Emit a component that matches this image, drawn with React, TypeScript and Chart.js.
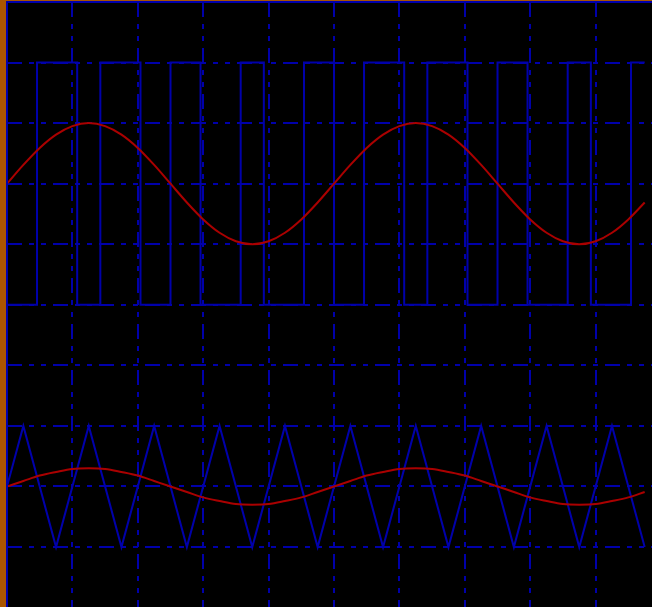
import React, { useEffect, useRef } from "react";
import { Chart, registerables } from "chart.js";

Chart.register(...registerables);

// Sine sampling positions (grid divisions)
const sineX = [
  0, 0.25, 0.5, 0.75, 1, 1.25, 1.5, 1.75, 2, 2.25, 2.5, 2.75, 3, 3.25, 3.5, 3.75, 4, 4.25, 4.5, 4.75,
  5, 5.25, 5.5, 5.75, 6, 6.25, 6.5, 6.75, 7, 7.25, 7.5, 7.75, 8, 8.25, 8.5, 8.75, 9, 9.25, 9.5, 9.75,
];
// Upper red sine (reference)
const sineUpper = [
  2, 2.31, 2.59, 2.81, 2.95, 3, 2.95, 2.81, 2.59, 2.31, 2, 1.69, 1.41, 1.19, 1.05, 1, 1.05, 1.19, 1.41, 1.69,
  2, 2.31, 2.59, 2.81, 2.95, 3, 2.95, 2.81, 2.59, 2.31, 2, 1.69, 1.41, 1.19, 1.05, 1, 1.05, 1.19, 1.41, 1.69,
];
// Lower red sine (modulating signal)
const sineLower = [
  -3, -2.91, -2.82, -2.76, -2.71, -2.7, -2.71, -2.76, -2.82, -2.91, -3, -3.09, -3.18, -3.24, -3.29, -3.3, -3.29, -3.24, -3.18, -3.09,
  -3, -2.91, -2.82, -2.76, -2.71, -2.7, -2.71, -2.76, -2.82, -2.91, -3, -3.09, -3.18, -3.24, -3.29, -3.3, -3.29, -3.24, -3.18, -3.09,
];
// Triangle carrier vertices
const triX = [
  0, 0.25, 0.75, 1.25, 1.75, 2.25, 2.75, 3.25, 3.75, 4.25, 4.75, 5.25, 5.75, 6.25, 6.75, 7.25, 7.75, 8.25, 8.75, 9.25, 9.75,
];
const triY = [
  -3, -2, -4, -2, -4, -2, -4, -2, -4, -2, -4, -2, -4, -2, -4, -2, -4, -2, -4, -2, -4,
];
// PWM square wave transitions
const pwmX = [
  0, 0.459, 1.073, 1.427, 2.041, 2.5, 2.959, 3.573, 3.927, 4.541, 5.0, 5.459, 6.073, 6.427, 7.041, 7.5, 7.959, 8.573, 8.927, 9.541, 9.75,
];
const pwmY = [0, 4, 0, 4, 0, 4, 0, 4, 0, 4, 0, 4, 0, 4, 0, 4, 0, 4, 0, 4, 4];

// Visible window of the scope screen (in grid divisions)
const X_MIN = 0;
const X_MAX = 9.862;
const Y_MIN = -4.99;
const Y_MAX = 5;

const BLUE = "#0000AA";
const RED = "#AA0000";
const BROWN = "#AA5500";

const zip = (xs: number[], ys: number[]) => xs.map((x, i) => ({ x, y: ys[i] }));

const bgPlugin = {
  id: "scopeBg",
  beforeDraw(chart: any) {
    const { ctx, chartArea } = chart;
    ctx.save();
    ctx.fillStyle = BROWN;
    ctx.fillRect(0, 0, chart.width, chart.height);
    ctx.fillStyle = "#000000";
    ctx.fillRect(chartArea.left, chartArea.top, chart.width, chart.height);
    ctx.restore();
  },
  afterDraw(chart: any) {
    const { ctx, chartArea } = chart;
    ctx.save();
    ctx.strokeStyle = BLUE;
    ctx.lineWidth = 2;
    ctx.beginPath();
    ctx.moveTo(chartArea.left, chart.height + 2);
    ctx.lineTo(chartArea.left, chartArea.top);
    ctx.lineTo(chart.width + 2, chartArea.top);
    ctx.stroke();
    ctx.restore();
  },
};

export default function App() {
  const ref = useRef<HTMLCanvasElement | null>(null);

  useEffect(() => {
    document.body.style.margin = "0";
    document.body.style.overflow = "hidden";
    const canvas = ref.current;
    if (!canvas) return;
    const axisCommon = {
      type: "linear" as const,
      ticks: { display: false, stepSize: 1, includeBounds: false },
      grid: { color: BLUE, lineWidth: 2, drawTicks: false },
      border: { display: false, dash: [15, 7, 5, 7, 5, 7] },
    };
    const chart = new Chart(canvas, {
      type: "line",
      data: {
        datasets: [
          {
            data: zip(sineX, sineUpper),
            borderColor: RED,
            borderWidth: 2,
            pointRadius: 0,
            cubicInterpolationMode: "monotone",
          },
          {
            data: zip(sineX, sineLower),
            borderColor: RED,
            borderWidth: 2,
            pointRadius: 0,
            cubicInterpolationMode: "monotone",
          },
          {
            data: zip(pwmX, pwmY),
            borderColor: BLUE,
            borderWidth: 2,
            pointRadius: 0,
            stepped: "before",
          },
          {
            data: zip(triX, triY),
            borderColor: BLUE,
            borderWidth: 2,
            pointRadius: 0,
            tension: 0,
          },
        ],
      },
      options: {
        animation: false,
        responsive: false,
        devicePixelRatio: 1,
        layout: { padding: { left: 7, top: 2, right: 0, bottom: 0 } },
        plugins: { legend: { display: false }, tooltip: { enabled: false } },
        scales: {
          x: { ...axisCommon, min: X_MIN, max: X_MAX, position: "bottom" },
          y: { ...axisCommon, min: Y_MIN, max: Y_MAX, position: "left" },
        },
      },
      plugins: [bgPlugin],
    });
    return () => chart.destroy();
  }, []);

  return (
    <div style={{ width: 652, height: 607, overflow: "hidden", position: "relative" }}>
      <canvas ref={ref} width={652} height={607} style={{ display: "block", width: 652, height: 607 }} />
    </div>
  );
}
